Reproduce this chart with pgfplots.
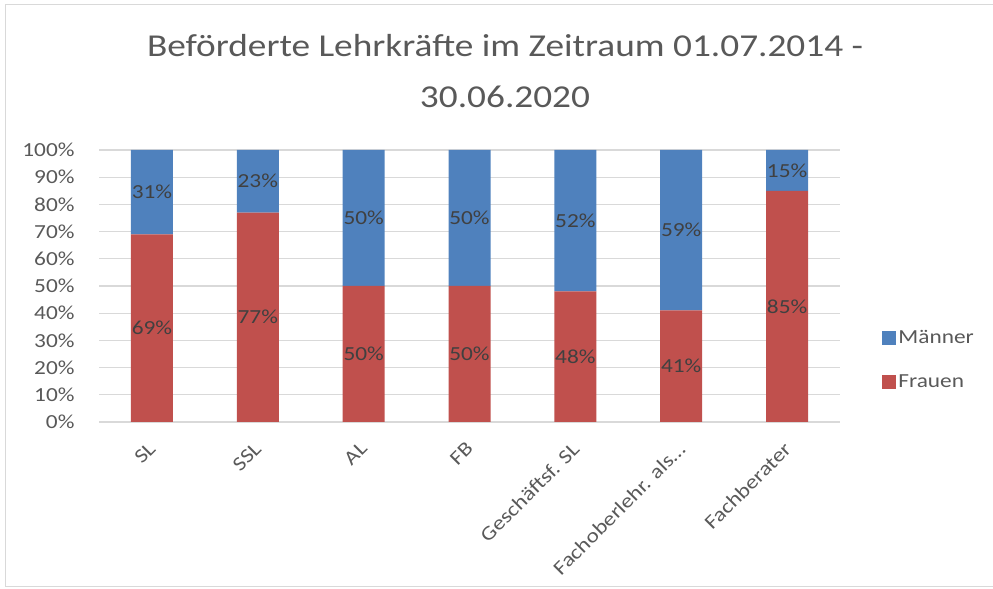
\documentclass[border=0pt]{standalone}
\usepackage{graphicx}
\usepackage{pgfplots}
\pgfplotsset{compat=1.18}
\usepackage{fontspec}
\setmainfont{Carlito}
\newcommand{\sx}[1]{\scalebox{1.17}[1]{#1}}
\definecolor{mblue}{HTML}{4F81BD}
\definecolor{fred}{HTML}{C0504D}
\definecolor{txt}{HTML}{595959}
\definecolor{lbl}{HTML}{404040}
\definecolor{gridc}{HTML}{D9D9D9}
\begin{document}
\begin{tikzpicture}[x=1bp,y=1bp]
\path[use as bounding box] (0,0) rectangle (993,589);
\draw[gridc, line width=1bp] (993,584) -- (5,584) -- (5,2) -- (993,2);
\node[text=txt, font=\fontsize{32}{52}\selectfont, align=center] at (505,518) {\sx{Beförderte Lehrkräfte im Zeitraum 01.07.2014 -}\\\sx{30.06.2020}};
\begin{axis}[
  at={(99bp,167bp)}, anchor=south west, scale only axis,
  width=741bp, height=272bp,
  ybar stacked, bar width=42bp,
  xmin=-0.5, xmax=6.5, ymin=0, ymax=100,
  axis line style={draw=none},
  major tick length=0pt,
  ymajorgrids, grid style={gridc, line width=1.2bp},
  xtick={0,...,6},
  xticklabels={\sx{SL},\sx{SSL},\sx{AL},\sx{FB},\sx{Geschäftsf. SL},\sx{Fachoberlehr. als…},\sx{Fachberater}},
  ytick={0,10,...,100},
  yticklabel={\sx{\pgfmathprintnumber{\tick}\%}},
  /pgf/number format/assume math mode=true,
  ticklabel style={font=\fontsize{20}{24}\selectfont, text=txt},
  yticklabel style={anchor=east, xshift=-21bp},
  xticklabel style={xshift=-4.5bp, yshift=-14bp, rotate=45, anchor=north east},
  legend style={draw=none, fill=none, at={(1.057,0.345)}, anchor=north west,
    font=\fontsize{20}{24}\selectfont, text=txt, row sep=26bp, inner sep=0pt,
    cells={anchor=west}},
  legend image code/.code={\fill[#1] (0bp,-7bp) rectangle (14bp,7bp);},
  reverse legend,
]
\addplot[fill=fred, draw=none] coordinates {(0,69) (1,77) (2,50) (3,50) (4,48) (5,41) (6,85)};
\addplot[fill=mblue, draw=none] coordinates {(0,31) (1,23) (2,50) (3,50) (4,52) (5,59) (6,15)};
\legend{\sx{Frauen},\sx{Männer}}
\end{axis}
\begin{axis}[
  at={(99bp,167bp)}, anchor=south west, scale only axis,
  width=741bp, height=272bp,
  xmin=-0.5, xmax=6.5, ymin=0, ymax=100, hide axis,
]
\addplot[draw=none, point meta=explicit, nodes near coords={\sx{\pgfmathprintnumber[assume math mode=true]{\pgfplotspointmeta}\%}},
  nodes near coords style={anchor=center, font=\fontsize{20}{24}\selectfont, text=lbl}]
  table[x=x, y=y, meta=v] {
x y v
0 34.5 69
1 38.5 77
2 25 50
3 25 50
4 24 48
5 20.5 41
6 42.5 85
0 84.5 31
1 88.5 23
2 75 50
3 75 50
4 74 52
5 70.5 59
6 92.5 15
};
\end{axis}
\end{tikzpicture}
\end{document}
